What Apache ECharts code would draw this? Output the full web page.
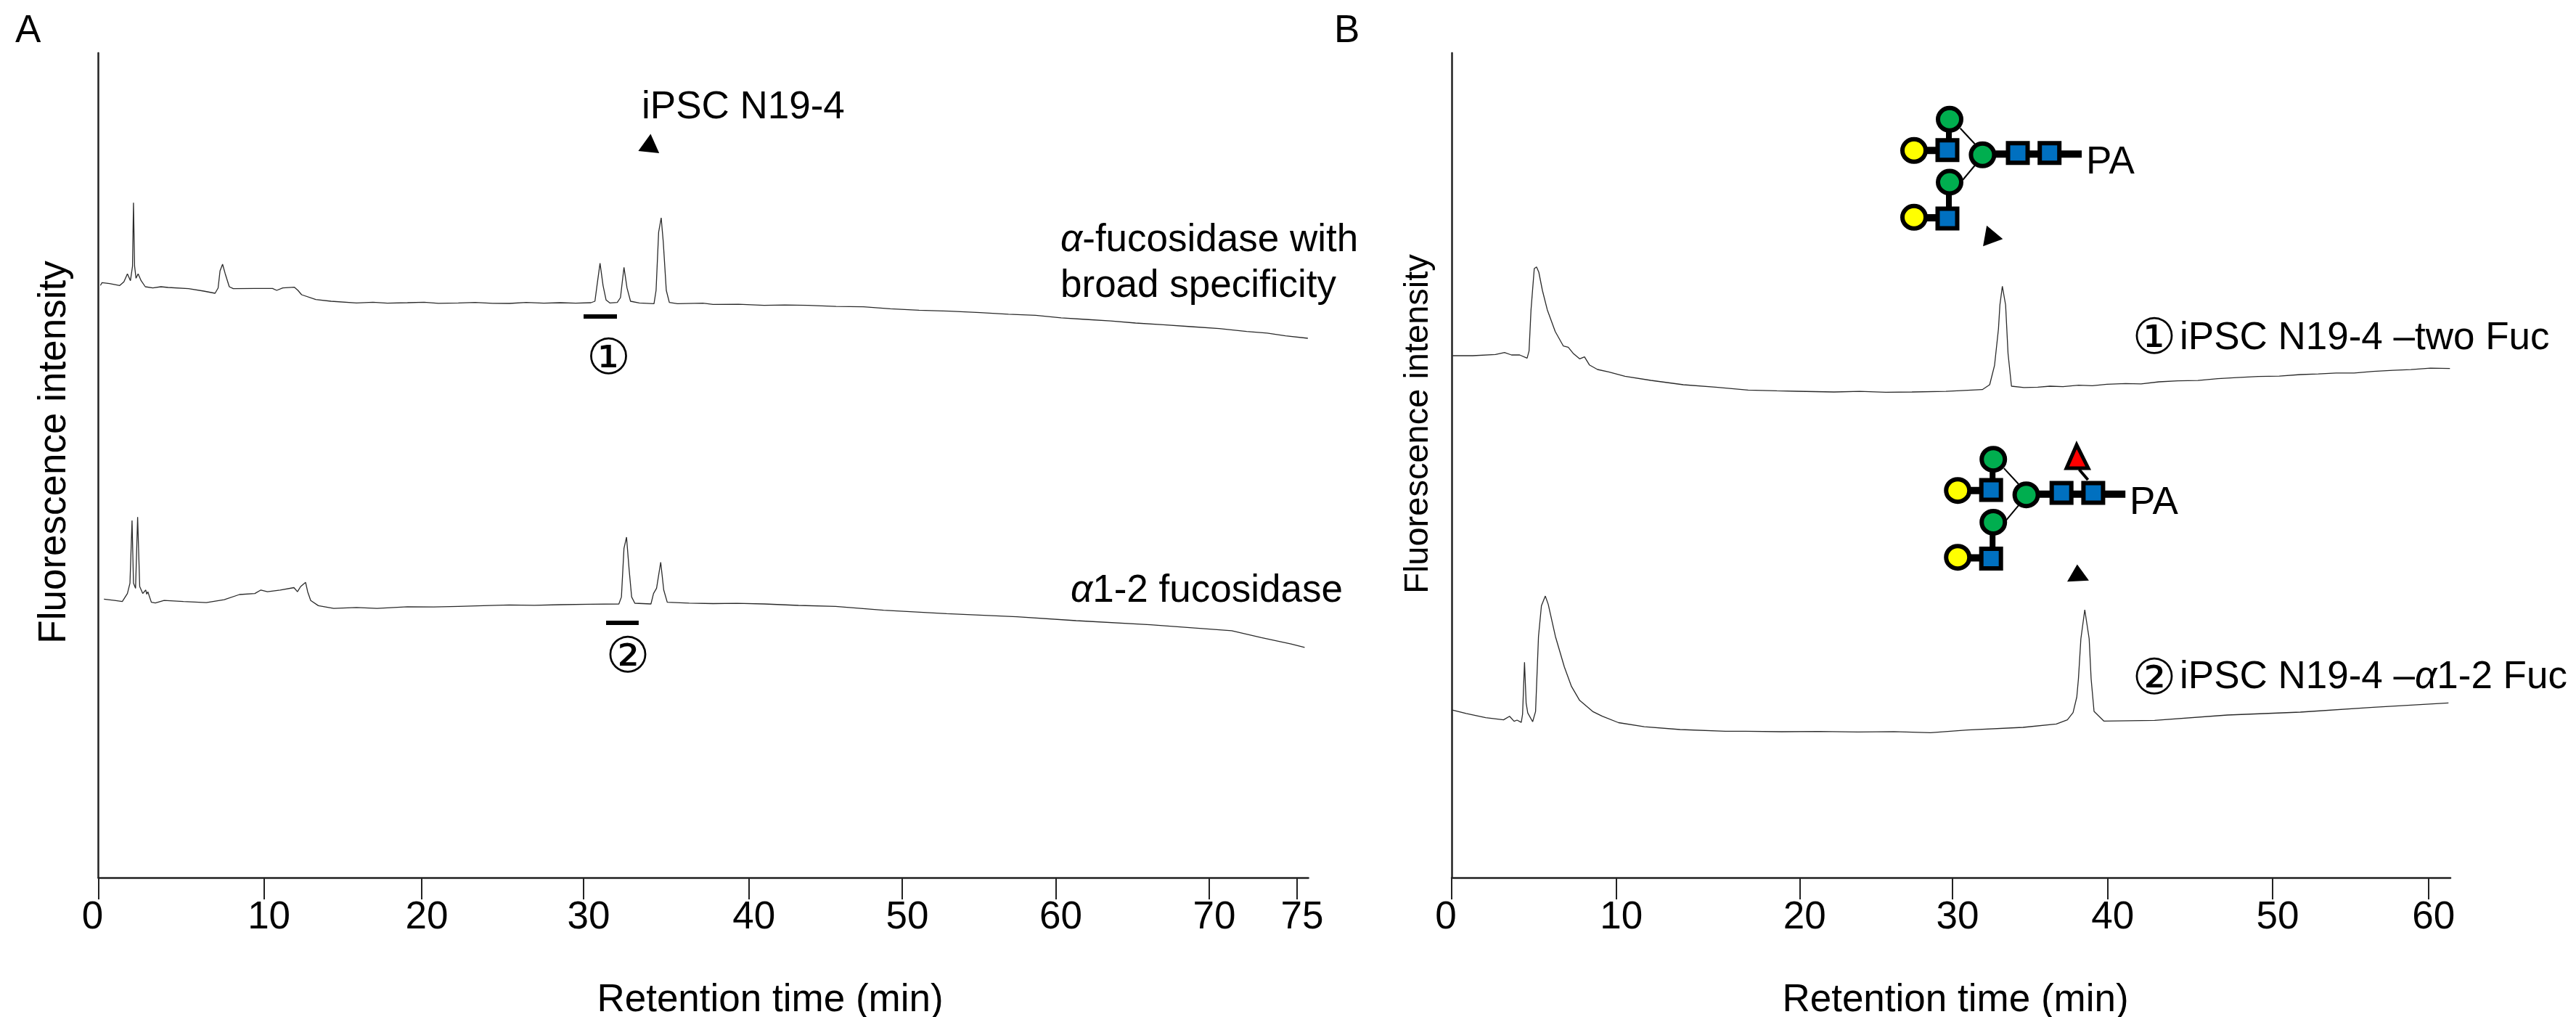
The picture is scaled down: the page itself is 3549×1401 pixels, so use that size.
<!DOCTYPE html>
<html><head><meta charset="utf-8">
<style>html,body{margin:0;padding:0;background:#fff}#c{width:3549px;height:1401px}</style>
<script src="https://cdn.jsdelivr.net/npm/echarts@6/dist/echarts.min.js"></script>
</head><body><div id="c"></div>
<script>
// ---------- data (time in min, intensity in arbitrary units) ----------
const tickLabelsA = [0,10,20,30,40,50,60,70,75];
const tickAtA     = [0,10.37,20.25,30.39,40.74,50.35,59.96,69.57,75.07];
const tickLabelsB = [0,10,20,30,40,50,60];
const tickAtB     = [0,10.12,21.40,30.80,40.35,50.49,60.08];

const timeA1 = [0.13,0.23,0.70,1.34,1.60,1.82,2.01,2.07,2.14,2.20,2.27,2.36,2.49,2.68,2.94,3.41,3.92,4.37,5.65,6.60,7.31,7.50,7.62,7.78,7.94,8.20,8.45,9.79,10.91,11.17,11.55,12.28,12.50,12.73,13.62,14.58,16.17,17.2,18.1,19.36,20.4,21.3,22.55,23.6,24.7,25.74,26.8,27.9,28.93,29.9,30.85,31.10,31.23,31.42,31.61,31.80,32.03,32.50,32.70,32.92,33.11,33.33,33.88,34.80,34.93,35.09,35.25,35.38,35.57,35.76,36.27,37.86,38.50,40.1,41.70,43.0,44.44,46.2,47.92,49.6,51.40,53.3,55.22,57.0,58.70,60.3,61.83,63.4,64.96,66.7,68.44,70.2,71.92,73.2,74.35,75.75];
const intensityA1 = [815.7,819.7,818.3,815.7,820.7,831.7,822.3,821.3,842.3,929.7,842.3,825.7,831.7,822.3,814,812.3,814,813,811.3,808,805,812.3,835.7,845,832.3,814,811.3,811.7,811.7,809,812.3,813.3,809,803,796.3,794,791.7,792.6,791.3,792,792.7,791.2,791.7,792.4,791.1,791,792.3,791.3,792,791.4,792,794,815.7,846.3,815.7,795.7,791.7,792.3,799,840.7,812.3,794,791.7,790.7,809,889,909,875.7,809,792.3,790.7,791.3,789.7,789.9,788.3,788.9,788.3,786.9,786.3,783.6,781.7,780.4,778.3,776.1,774.7,771.2,769,766.8,764,761.7,759,756.4,752.3,750.2,746.3,743];

const timeA2 = [0.35,1.02,1.50,1.82,1.98,2.11,2.20,2.33,2.46,2.59,2.78,2.97,3.03,3.10,3.32,3.57,4.12,5.33,6.76,7.88,8.84,9.80,10.18,10.59,11.39,12.25,12.47,12.67,12.98,13.11,13.30,13.78,14.74,16.17,17.45,19.36,21.0,22.55,24.1,25.74,27.3,28.93,30.8,32.60,32.76,32.92,33.08,33.24,33.40,33.60,34.61,34.77,34.96,35.22,35.41,35.63,37.0,38.50,40.0,41.70,43.85,46.17,49.18,53.13,57.53,61.24,65.88,70.98,72.84,74.70,75.55];
const intensityA2 = [383.7,381.8,380.4,391.4,405.7,492,405.7,398.6,496.7,400.9,391.4,396.2,390.4,393.8,379.4,378.4,381.8,380.4,378.9,382.8,390,391.4,396.2,393.8,396.2,399.5,393.8,401,406.7,393.8,381.8,374.6,370.8,372.2,370.8,373.2,372.8,373.7,374.6,375.6,375.2,376,376.6,377,386.6,453.6,469,424.9,386.6,378,377,391.4,398.6,434.5,396.2,379.4,378.2,377.5,377.9,377,375,373.7,368.4,363.6,359.3,354,348.3,340.1,330.6,321.9,317.1];

const timeB1 = [0.06,1.29,2.69,3.25,3.68,4.18,4.64,4.76,4.88,5.08,5.22,5.36,5.58,5.88,6.37,6.87,7.17,7.47,7.87,8.17,8.47,8.97,9.66,10.66,12.25,14.25,16.24,18.23,20.0,21.22,23.52,25.1,26.7,28.31,30.4,32.64,33.09,33.39,33.63,33.72,33.87,34.07,34.22,34.43,35.2,36.05,36.8,37.6,38.56,39.4,40.3,41.45,42.4,43.5,44.66,45.9,47.12,48.3,49.6,50.9,52.20,53.3,54.4,55.5,56.68,57.9,59.0,60.2,61.40];
const intensityB1 = [719,719,720.7,723.3,720,720,715.7,725.7,782.3,839,841.3,834,809,782.3,752.3,732.3,730.7,722.3,714.7,717.3,706.3,700,696.7,690.7,685,679,675.7,671.7,670.6,670,669,669.8,668.7,669,669.9,672.3,679,705.7,755.7,789,814.7,789,722,677,675.2,675.7,677,676.4,678.3,677.7,679.6,680.7,680.1,683,684.3,684.9,687.3,688.9,690.4,690.9,693,693.8,695.2,695.1,697.3,698.9,699.8,701.9,701.3];

const timeB2 = [0.04,0.89,2.09,3.19,3.56,3.84,4.02,4.28,4.36,4.48,4.58,4.68,4.98,5.16,5.34,5.52,5.76,5.94,6.38,6.93,7.37,7.87,8.67,9.26,10.26,11.85,14.05,16.84,18.06,20.3,22.61,25.0,27.2,29.45,31.72,35.14,37.19,37.87,38.22,38.45,38.55,38.70,38.94,39.21,39.33,39.51,40.11,43.24,47.72,52.20,56.68,61.31];
const intensityB2 = [230.8,226.2,220.4,217.4,222.3,215.4,217,213.9,225,296.7,240.4,226.9,214.7,228.9,332.3,374.5,387.9,376.4,332.3,290.2,263.3,244.2,228.9,222.3,213.5,207.8,204,201.6,201.7,201,201.3,200.6,201.2,199.7,203.3,207,211.7,217.3,227.3,249,274,329,369,329,274,229,215.7,216.7,224,228,234.7,240.7];

// fraction bars and arrowheads (time, intensity)
const fractionBar1Time = [30.39,32.48], fractionBar1Level = [773,773];
const fractionBar2Time = [31.80,33.84], fractionBar2Level = [351,351];
const arrowA  = [34.53,1012];
const arrowB1 = [33.10,886.5];
const arrowB2 = [38.50,420];

// ---------- helpers ----------
const FONT = '"Liberation Sans", Arial, sans-serif';
const zip = (a,b) => a.map((v,i)=>[v,b[i]]);
const traceStyle = {color:'#2a2a2a', width:1.3};
function trace(name,xi,x,y){
  return {type:'line',name,xAxisIndex:xi,yAxisIndex:xi,data:zip(x,y),showSymbol:false,symbol:'none',lineStyle:traceStyle,silent:true,clip:false};
}
function bar(xi,x,y){
  return {type:'line',xAxisIndex:xi,yAxisIndex:xi,data:zip(x,y),showSymbol:false,symbol:'none',lineStyle:{color:'#000',width:6,cap:'butt'},silent:true};
}
function arrow(xi,p,size,rot){
  return {type:'scatter',xAxisIndex:xi,yAxisIndex:xi,data:[p],symbol:'triangle',symbolSize:size,symbolRotate:rot,itemStyle:{color:'#000',opacity:1},silent:true};
}
function xAxis(i,left,max,ticks,labels,name,pad){
  const rich={s:{fontSize:53,fontFamily:FONT,color:'#000',padding:[0,0,0,14]},z:{fontSize:53,fontFamily:FONT,color:'#000',padding:[0,16,0,0]}};
  return {type:'value',gridIndex:i,min:0,max:max,position:'bottom',splitLine:{show:false},
    axisLine:{onZero:false,lineStyle:{color:'#222',width:2.5}},
    axisTick:{show:true,customValues:ticks,length:30,inside:false,lineStyle:{color:'#222',width:2}},
    axisLabel:{show:true,customValues:ticks,margin:29,showMinLabel:true,showMaxLabel:true,hideOverlap:false,
      formatter:v=>{const l=labels[ticks.indexOf(v)];return l===0?'{z|0}':'{s|'+l+'}';},rich},
    name,nameLocation:'middle',nameGap:143,nameTextStyle:{fontSize:53,fontFamily:FONT,color:'#000',padding:pad}};
}
function yAxis(i,size,gap,pad){
  return {type:'value',gridIndex:i,min:0,max:1136,splitLine:{show:false},axisTick:{show:false},axisLabel:{show:false},
    axisLine:{show:true,onZero:false,lineStyle:{color:'#222',width:2.5}},
    name:'Fluorescence intensity',nameLocation:'middle',nameRotate:90,nameGap:gap,
    nameTextStyle:{fontSize:size,fontFamily:FONT,color:'#000',padding:pad}};
}
function txt(x,baseline,text){
  return {type:'text',x,y:baseline-15,silent:true,z:20,style:{text,font:'53px '+FONT,fill:'#000',verticalAlign:'middle',align:'left',
    rich:{a:{fontStyle:'italic',fontSize:53,fontFamily:FONT,fill:'#000'},n:{fontSize:53,fontFamily:FONT,fill:'#000'}}}};
}
function circled(x,y,ch){
  return {type:'text',x,y:y+6,silent:true,z:20,style:{text:ch,font:'68px "DejaVu Sans", sans-serif',fill:'#000',align:'center',verticalAlign:'middle'}};
}
const GREEN='#00ae4f',YELLOW='#ffff00',BLUE='#0070c0',RED='#ff0000';
function glycan(dx,dy){
  const out=[];
  const line=(x1,y1,x2,y2,w)=>out.push({type:'line',z:10,silent:true,shape:{x1:x1+dx,y1:y1+dy,x2:x2+dx,y2:y2+dy},style:{stroke:'#000',lineWidth:w}});
  const circ=(x,y,c)=>out.push({type:'ellipse',z:12,silent:true,shape:{cx:x+dx,cy:y+dy,rx:16,ry:15.5},style:{fill:c,stroke:'#000',lineWidth:6}});
  const sq=(x,y)=>out.push({type:'rect',z:12,silent:true,shape:{x:x+dx-13.5,y:y+dy-13.5,width:27,height:27},style:{fill:BLUE,stroke:'#000',lineWidth:6}});
  line(2747,212.3,2868,212.3,10);
  line(2700.7,176.7,2720.7,198.3,2);
  line(2704,248,2720.7,228,2);
  line(2685,170,2685,200,8);
  line(2685,258,2685,295,8);
  line(2637,207.3,2683,207.3,10);
  line(2637,300,2683,300,10);
  circ(2686,164.3,GREEN);circ(2686,251,GREEN);circ(2731.4,213.3,GREEN);
  circ(2637,207.3,YELLOW);circ(2637,299.3,YELLOW);
  sq(2683,206.7);sq(2683,301);sq(2780,210.7);sq(2823.7,210.7);
  return out;
}

const graphicEls = [
  txt(21,58,'A'),txt(1838,58,'B'),
  txt(884,163,'iPSC N19-4'),
  txt(1461,346,'{a|α}{n|-fucosidase with}'),
  txt(1461,409,'broad specificity'),
  txt(1475,829.6,'{a|α}{n|1-2 fucosidase}'),
  circled(838.5,491.7,'①'),circled(865,902,'②'),
  circled(2968,463,'①'),circled(2968,932.3,'②'),
  txt(3003,481.7,'iPSC N19-4 –two Fuc'),
  txt(3003,948.3,'{n|iPSC N19-4 –}{a|α}{n|1-2 Fuc}'),
  txt(2874,239.3,'PA'),txt(2934,708.3,'PA'),
  ...glycan(0,0),...glycan(60.2,468.4),
  {type:'line',z:10,silent:true,shape:{x1:2864.5,y1:646.7,x2:2876.6,y2:661},style:{stroke:'#000',lineWidth:4}},
  {type:'polygon',z:12,silent:true,shape:{points:[[2861,613],[2847,645],[2877,645]]},style:{fill:RED,stroke:'#000',lineWidth:5,lineJoin:'miter'}}
];

const chart = echarts.init(document.getElementById('c'),null,{renderer:'canvas'});
chart.setOption({
  animation:false,backgroundColor:'#fff',
  grid:[
    {left:135.5,top:73,width:1667,height:1136,containLabel:false,outerBoundsMode:'none'},
    {left:2000,top:73,width:1376,height:1136,containLabel:false,outerBoundsMode:'none'}
  ],
  xAxis:[
    xAxis(0,135.5,75.78,tickAtA,tickLabelsA,'Retention time (min)',[0,0,0,184]),
    xAxis(1,2000,61.43,tickAtB,tickLabelsB,'Retention time (min)',[0,0,0,12])
  ],
  yAxis:[yAxis(0,53,34,[0,0,0,36]),yAxis(1,47,22,[0,0,0,114])],
  series:[
    trace('α-fucosidase with broad specificity',0,timeA1,intensityA1),
    trace('α1-2 fucosidase',0,timeA2,intensityA2),
    trace('iPSC N19-4 –two Fuc',1,timeB1,intensityB1),
    trace('iPSC N19-4 –α1-2 Fuc',1,timeB2,intensityB2),
    bar(0,fractionBar1Time,fractionBar1Level),
    bar(0,fractionBar2Time,fractionBar2Level),
    arrow(0,arrowA,[29,25],-6),
    arrow(1,arrowB1,[29,25],20),
    arrow(1,arrowB2,[30,23],3)
  ],
  graphic:{elements:graphicEls}
});
</script></body></html>
